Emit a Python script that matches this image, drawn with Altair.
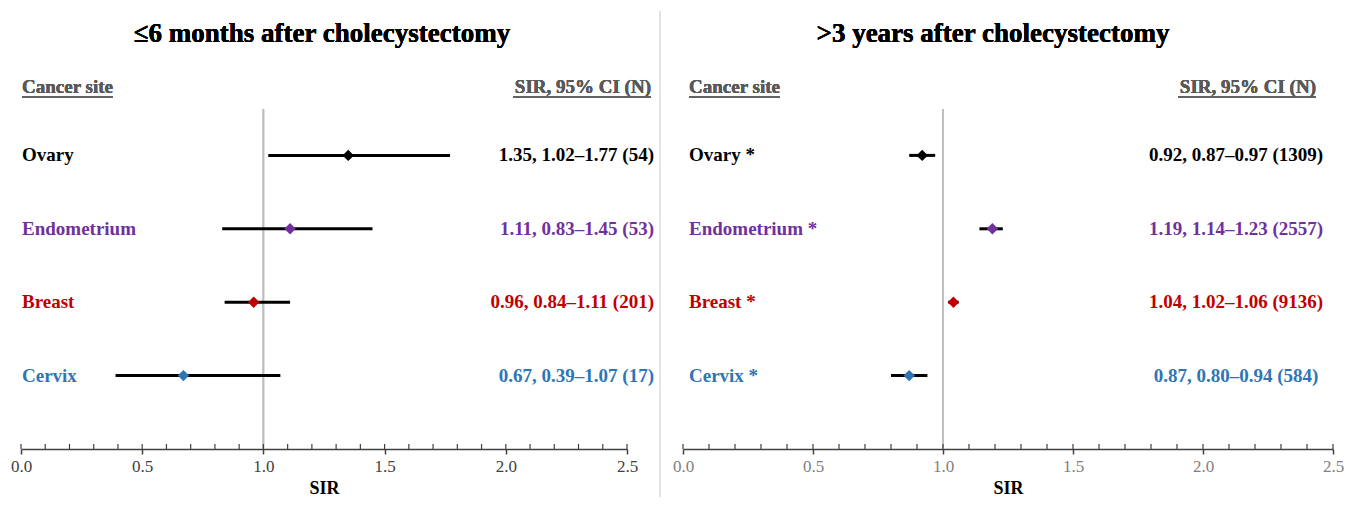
import altair as alt
import pandas as pd

# ---- data ----
sites = ["Ovary", "Endometrium", "Breast", "Cervix"]
site_colors = ["#000000", "#7030A0", "#C00000", "#2E75B6"]

early_sir = [1.35, 1.11, 0.96, 0.67]
early_lo = [1.02, 0.83, 0.84, 0.39]
early_hi = [1.77, 1.45, 1.11, 1.07]
early_n = [54, 53, 201, 17]
early_labels = ["Ovary", "Endometrium", "Breast", "Cervix"]

late_sir = [0.92, 1.19, 1.04, 0.87]
late_lo = [0.87, 1.14, 1.02, 0.80]
late_hi = [0.97, 1.23, 1.06, 0.94]
late_n = [1309, 2557, 9136, 584]
late_labels = ["Ovary *", "Endometrium *", "Breast *", "Cervix *"]

major_ticks = [0.0, 0.5, 1.0, 1.5, 2.0, 2.5]
minor_ticks = [0.0, 0.1, 0.2, 0.3, 0.4, 0.5, 0.6, 0.7, 0.8, 0.9, 1.0,
               1.1, 1.2, 1.3, 1.4, 1.5, 1.6, 1.7, 1.8, 1.9, 2.0,
               2.1, 2.2, 2.3, 2.4, 2.5]

titles = ["\u22646 months after cholecystectomy", ">3 years after cholecystectomy"]

FONT = "Liberation Serif"
H = 367
TICK_FS = 17


def make_df(sir, lo, hi, n, labels):
    return pd.DataFrame({
        "site": sites,
        "label": labels,
        "row": list(range(1, len(sites) + 1)),
        "sir": sir,
        "lo": lo,
        "hi": hi,
        "value": [f"{s:.2f}, {a:.2f}\u2013{b:.2f} ({k})" for s, a, b, k in zip(sir, lo, hi, n)],
    })


color_scale = alt.Scale(domain=sites, range=site_colors)


def panel(df, width, title, title_x, label_x, value_x, value_align,
          header_right_x, tick_label_color, separator_x=None):
    base = alt.Chart(df)
    x_scale = alt.Scale(domain=[0, 2.5], nice=False, zero=False)
    y_scale = alt.Scale(domain=[0, 5], reverse=True)
    x_axis = alt.Axis(values=major_ticks, format=".1f", title="SIR",
                      labelFont=FONT, labelFontSize=TICK_FS, labelFlush=False,
                      labelColor=tick_label_color,
                      titleFont=FONT, titleFontSize=18,
                      titleFontWeight="bold", titleColor="black",
                      titlePadding=5,
                      domainColor="#404040", domainWidth=1.5,
                      tickColor="#404040", tickWidth=1.5, tickSize=5,
                      labelPadding=4, grid=False)

    ci = base.mark_rule(color="black", strokeWidth=3).encode(
        x=alt.X("lo:Q", scale=x_scale, axis=x_axis),
        x2="hi:Q",
        y=alt.Y("row:Q", scale=y_scale, axis=None),
    )
    pts = base.mark_point(shape="diamond", filled=True, size=130, opacity=1).encode(
        x=alt.X("sir:Q", scale=x_scale, axis=x_axis),
        y=alt.Y("row:Q", scale=y_scale, axis=None),
        color=alt.Color("site:N", scale=color_scale, legend=None),
    )
    ref = alt.Chart(df).mark_rule(color="#BFBFBF", strokeWidth=1.5).encode(
        x=alt.datum(1.0), y=alt.value(27), y2=alt.value(H)
    )
    minor = alt.Chart(pd.DataFrame({"t": minor_ticks})).mark_rule(
        color="#404040", strokeWidth=1.2).encode(
        x=alt.X("t:Q", scale=x_scale, axis=x_axis),
        y=alt.value(H - 5), y2=alt.value(H)
    )
    labels = base.mark_text(align="left", baseline="middle", font=FONT,
                            fontSize=19, fontWeight="bold").encode(
        x=alt.value(label_x),
        y=alt.Y("row:Q", scale=y_scale, axis=None),
        text="label:N",
        color=alt.Color("site:N", scale=color_scale, legend=None),
    )
    values = base.mark_text(align=value_align, baseline="middle", font=FONT,
                            fontSize=19, fontWeight="bold").encode(
        x=alt.value(value_x),
        y=alt.Y("row:Q", scale=y_scale, axis=None),
        text="value:N",
        color=alt.Color("site:N", scale=color_scale, legend=None),
    )
    ttl = alt.Chart(df).mark_text(
        align="center", baseline="alphabetic", font=FONT, fontSize=27,
        fontWeight="bold", color="black", text=title
    ).encode(x=alt.value(title_x), y=alt.value(-40))
    hdr_left = alt.Chart(df).mark_text(
        align="left", baseline="middle", font=FONT, fontSize=19,
        fontWeight="bold", color="#595959", text="Cancer site"
    ).encode(x=alt.value(label_x), y=alt.value(5))
    hdr_right = alt.Chart(df).mark_text(
        align="right", baseline="middle", font=FONT, fontSize=19,
        fontWeight="bold", color="#595959", text="SIR, 95% CI (N)"
    ).encode(x=alt.value(header_right_x), y=alt.value(5))
    ul_left = alt.Chart(df).mark_rule(color="#595959", strokeWidth=1.2).encode(
        x=alt.value(label_x), x2=alt.value(label_x + 91), y=alt.value(15)
    )
    ul_right = alt.Chart(df).mark_rule(color="#595959", strokeWidth=1.2).encode(
        x=alt.value(header_right_x - 138), x2=alt.value(header_right_x), y=alt.value(15)
    )
    layers = [ref, minor, ci, pts, labels, values, ttl, hdr_left, hdr_right,
              ul_left, ul_right]
    if separator_x is not None:
        sep = alt.Chart(df).mark_rule(color="#E3E3E3", strokeWidth=1.2).encode(
            x=alt.value(separator_x), y=alt.value(-71), y2=alt.value(415)
        )
        layers.append(sep)
    return alt.layer(*layers).properties(width=width, height=H)


left = panel(make_df(early_sir, early_lo, early_hi, early_n, early_labels),
             width=606, title=titles[0], title_x=301,
             label_x=1, value_x=633, value_align="right", header_right_x=630,
             tick_label_color="#404040", separator_x=639)
right = panel(make_df(late_sir, late_lo, late_hi, late_n, late_labels),
              width=650, title=titles[1], title_x=310,
              label_x=6, value_x=553, value_align="center", header_right_x=633,
              tick_label_color="#808080")

chart = alt.hconcat(left, right, spacing=56, bounds="flush").properties(
    padding={"left": 2, "top": 2, "right": 0, "bottom": 0}
).configure_view(stroke=None).configure_axis(
    labelFont=FONT, labelFontSize=TICK_FS, labelFlush=False,
    titleFont=FONT, titleFontSize=18
)

chart.save("out.html", embed_options={"renderer": "svg", "actions": False})
